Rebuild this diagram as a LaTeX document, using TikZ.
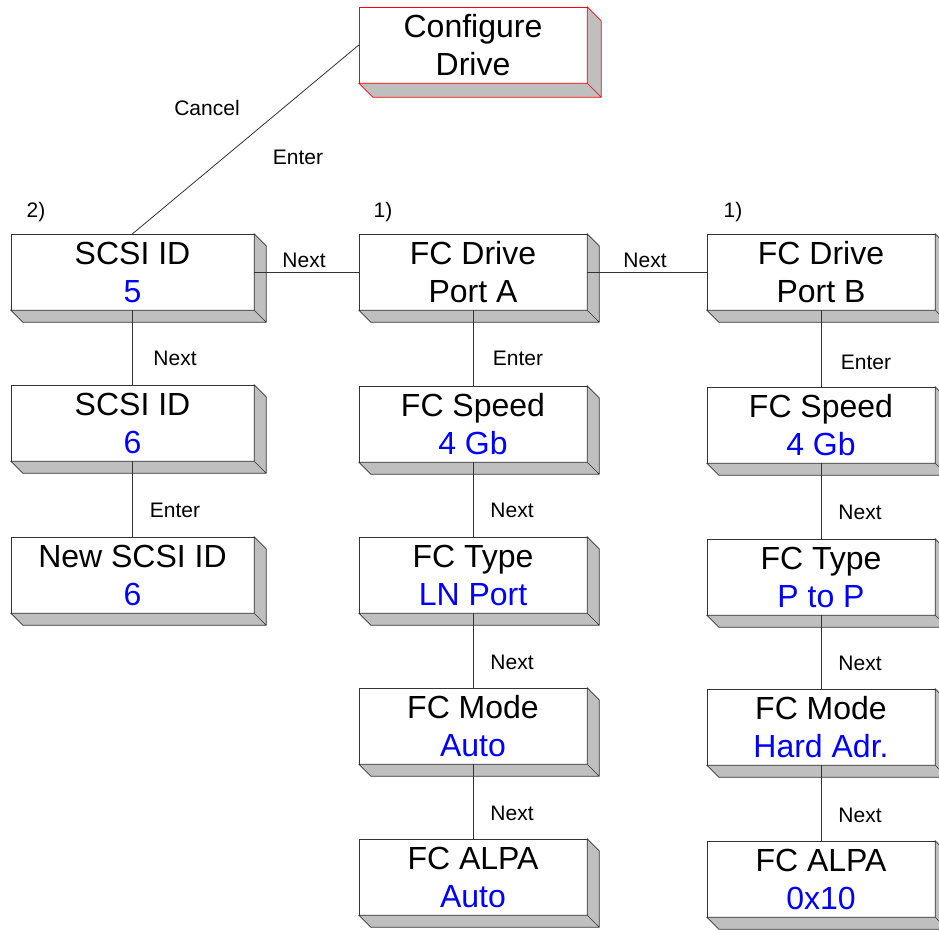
\documentclass[tikz,border=0pt]{standalone}
\usepackage{fontspec}
\setmainfont{Liberation Sans}
\usetikzlibrary{positioning}
\usetikzlibrary{calc}
\newcommand{\fcval}[1]{\textcolor{blue}{#1}}
\tikzset{
    panel/.style = {rectangle,draw=black!80,fill=white,minimum width=228pt,minimum height=76pt,inner sep=0pt,align=center,font=\fontsize{32}{38}\selectfont},
    widepanel/.style = {panel,minimum width=243pt},
    redpanel/.style = {panel,draw=red},
    side/.style = {fill=black!25,draw=black!80,line width=0.6pt},
    redside/.style = {side,draw=red},
    link/.style = {draw=black!80,line width=0.8pt},
    tag/.style = {font=\fontsize{21}{24}\selectfont,inner sep=0pt}}
\begin{document}
\begin{tikzpicture}[x=1pt,y=-1pt]
        \useasboundingbox (0,0) rectangle (939,929);
        % boxes
        \node[redpanel] (cfg) at (473,45) {Configure\\Drive};
        \node[widepanel] (id5) at (132.5,272) {SCSI ID\\\fcval{5}};
        \node[widepanel] (id6) at (132.5,423) {SCSI ID\\\fcval{6}};
        \node[widepanel] (newid) at (132.5,575) {New SCSI ID\\\fcval{6}};
        \node[panel] (portA) at (473,272) {FC Drive\\Port A};
        \node[panel] (speedA) at (473,424) {FC Speed\\\fcval{4 Gb}};
        \node[panel] (typeA) at (473,575) {FC Type\\\fcval{LN Port}};
        \node[panel] (modeA) at (473,726) {FC Mode\\\fcval{Auto}};
        \node[panel] (alpaA) at (473,877) {FC ALPA\\\fcval{Auto}};
        \node[panel] (portB) at (821,272) {FC Drive\\Port B};
        \node[panel] (speedB) at (821,425) {FC Speed\\\fcval{4 Gb}};
        \node[panel] (typeB) at (821,577) {FC Type\\\fcval{P to P}};
        \node[panel] (modeB) at (821,727) {FC Mode\\\fcval{Hard Adr.}};
        \node[panel] (alpaB) at (821,879) {FC ALPA\\\fcval{0x10}};
        % depth faces
        \filldraw[redside] (cfg.north east) -- ++(14,14) -- ($(cfg.south east)+(14,14)$) -- ($(cfg.south west)+(14,14)$)
            -- (cfg.south west) -- (cfg.south east) -- cycle (cfg.south east) -- ++(14,14);
        \foreach \b in {id5,id6,newid,portA,speedA,typeA,modeA,alpaA,portB,speedB,typeB,modeB,alpaB}
            \filldraw[side] (\b.north east) -- ++(12,12) -- ($(\b.south east)+(12,12)$) -- ($(\b.south west)+(12,12)$)
                -- (\b.south west) -- (\b.south east) -- cycle (\b.south east) -- ++(12,12);
        % connectors
        \draw[link] (id5.north) -- (cfg.west);
        \draw[link] (id5.east) -- (portA.west);
        \draw[link] (portA.east) -- (portB.west);
        \draw[link] (id5.south) -- (id6.north);
        \draw[link] (id6.south) -- (newid.north);
        \draw[link] (portA.south) -- (speedA.north);
        \draw[link] (speedA.south) -- (typeA.north);
        \draw[link] (typeA.south) -- (modeA.north);
        \draw[link] (modeA.south) -- (alpaA.north);
        \draw[link] (portB.south) -- (speedB.north);
        \draw[link] (speedB.south) -- (typeB.north);
        \draw[link] (typeB.south) -- (modeB.north);
        \draw[link] (modeB.south) -- (alpaB.north);
        % labels
        \node[tag] (cancel) at (207,108) {Cancel};
        \node[tag] (enter0) at (298,157) {Enter};
        \node[tag] (num2) at (36,212) {2)};
        \node[tag] (num1a) at (383,212) {1)};
        \node[tag] (num1b) at (733,212) {1)};
        \node[tag] (nextAB0) at (304,260) {Next};
        \node[tag] (nextAB1) at (645,260) {Next};
        \node[tag] (next0) at (175,358) {Next};
        \node[tag] (enter1) at (175,510) {Enter};
        \node[tag] (enterA) at (518,358) {Enter};
        \node[tag] (nextA1) at (512,510) {Next};
        \node[tag] (nextA2) at (512,662) {Next};
        \node[tag] (nextA3) at (512,813) {Next};
        \node[tag] (enterB) at (866,362) {Enter};
        \node[tag] (nextB1) at (860,512) {Next};
        \node[tag] (nextB2) at (860,663) {Next};
        \node[tag] (nextB3) at (860,815) {Next};
\end{tikzpicture}
\end{document}
